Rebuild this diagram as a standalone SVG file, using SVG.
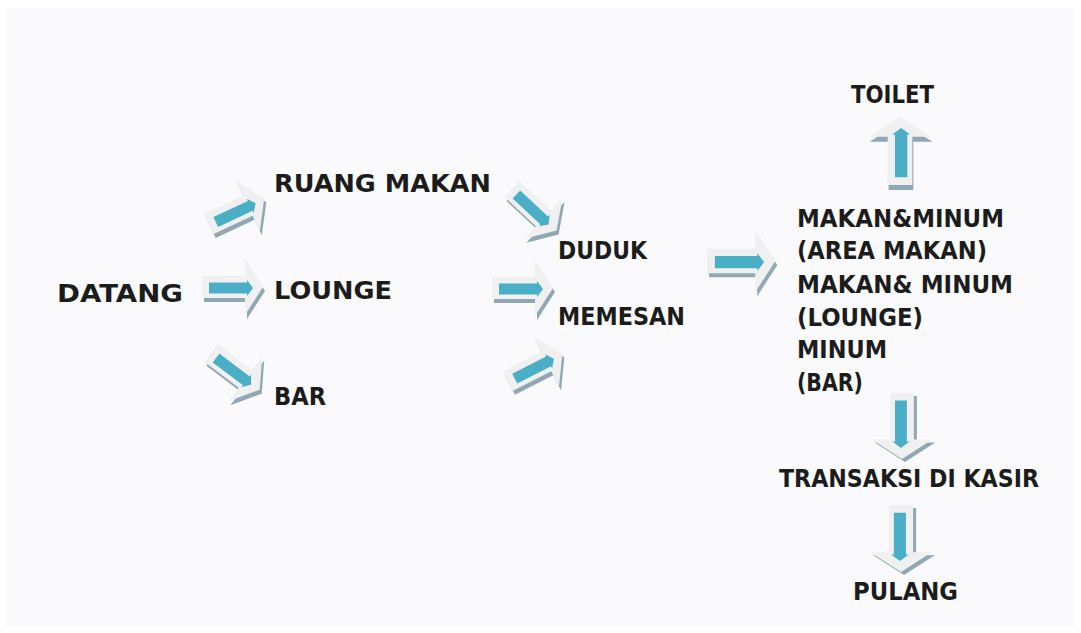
<svg xmlns="http://www.w3.org/2000/svg" xmlns:xlink="http://www.w3.org/1999/xlink" width="1081" height="633" viewBox="0 0 1081 633">
  <style>
    .lbl { font-family: "DejaVu Sans", "Liberation Sans", sans-serif; font-weight: bold; font-size: 25px; fill: #1c1c1c; }
    .col { font-size: 24px; }
    .sh { fill: #8fa8b3; }
    .bd { fill: #f0f0f0; }
    .cr { fill: #4aaec7; }
  </style>
  <defs>
    <!-- block arrow pointing right, origin at tail centre -->
    <path id="blk" d="M0,-11 H43 V-28 L61,0 L43,28 V11 H0 Z"/>
    <path id="core" d="M7,-4.5 H45 V-7 L51,1 L45,9 V6.5 H7 Z"/>
  </defs>

  <rect width="1081" height="633" fill="#ffffff"/>
  <rect x="6" y="8" width="1068" height="618" fill="#fafafc"/>

  <g id="connectors">
    <g id="a-lounge" transform="translate(202,287)">
      <use xlink:href="#blk" class="sh" transform="translate(2,4)"/>
      <use xlink:href="#blk" class="bd"/>
      <use xlink:href="#core" class="cr"/>
    </g>
    <g id="a-ruang" transform="translate(209,224)">
      <use xlink:href="#blk" class="sh" transform="translate(2,4) rotate(-25)"/>
      <use xlink:href="#blk" class="bd" transform="rotate(-25)"/>
      <use xlink:href="#core" class="cr" transform="rotate(-25)"/>
    </g>
    <g id="a-bar" transform="translate(211,353)">
      <use xlink:href="#blk" class="sh" transform="translate(2,4) rotate(37)"/>
      <use xlink:href="#blk" class="bd" transform="rotate(37)"/>
      <use xlink:href="#core" class="cr" transform="rotate(37)"/>
    </g>
    <g id="a-duduk" transform="translate(512,189)">
      <use xlink:href="#blk" class="sh" transform="translate(2,4) rotate(43)"/>
      <use xlink:href="#blk" class="bd" transform="rotate(43)"/>
      <use xlink:href="#core" class="cr" transform="rotate(43)"/>
    </g>
    <g id="a-memesan" transform="translate(492,288)">
      <use xlink:href="#blk" class="sh" transform="translate(2,4)"/>
      <use xlink:href="#blk" class="bd"/>
      <use xlink:href="#core" class="cr"/>
    </g>
    <g id="a-memesan2" transform="translate(508,381)">
      <use xlink:href="#blk" class="sh" transform="translate(2,4) rotate(-27)"/>
      <use xlink:href="#blk" class="bd" transform="rotate(-27)"/>
      <use xlink:href="#core" class="cr" transform="rotate(-27)"/>
    </g>
    <g id="a-makan" transform="translate(707,261)">
      <use xlink:href="#blk" class="sh" transform="translate(2,4) scale(1.12)"/>
      <use xlink:href="#blk" class="bd" transform="scale(1.12)"/>
      <use xlink:href="#core" class="cr" transform="scale(1.12)"/>
    </g>
    <g id="a-toilet" transform="translate(900,185)">
      <use xlink:href="#blk" class="sh" transform="translate(1,5) rotate(-90) scale(1.12)"/>
      <use xlink:href="#blk" class="bd" transform="rotate(-90) scale(1.12)"/>
      <use xlink:href="#core" class="cr" transform="rotate(-90) scale(1.12)"/>
    </g>
    <g id="a-transaksi" transform="translate(902,393)">
      <use xlink:href="#blk" class="sh" transform="translate(3,3) rotate(90) scale(1.08)"/>
      <use xlink:href="#blk" class="bd" transform="rotate(90) scale(1.08)"/>
      <use xlink:href="#core" class="cr" transform="rotate(90) scale(1.08)"/>
    </g>
    <g id="a-pulang" transform="translate(901,505)">
      <use xlink:href="#blk" class="sh" transform="translate(3,3) rotate(90) scale(1.1)"/>
      <use xlink:href="#blk" class="bd" transform="rotate(90) scale(1.1)"/>
      <use xlink:href="#core" class="cr" transform="rotate(90) scale(1.1)"/>
    </g>
  </g>

  <g id="datang"><text class="lbl" x="57" y="302" textLength="126" lengthAdjust="spacingAndGlyphs">DATANG</text></g>
  <g id="ruang-makan"><text class="lbl" x="274" y="192" textLength="217" lengthAdjust="spacingAndGlyphs">RUANG MAKAN</text></g>
  <g id="lounge"><text class="lbl" x="274" y="299" textLength="118" lengthAdjust="spacingAndGlyphs">LOUNGE</text></g>
  <g id="bar"><text class="lbl" x="274" y="405" textLength="52" lengthAdjust="spacingAndGlyphs">BAR</text></g>
  <g id="duduk"><text class="lbl" x="558" y="259" textLength="89" lengthAdjust="spacingAndGlyphs">DUDUK</text></g>
  <g id="memesan"><text class="lbl" x="558" y="325" textLength="127" lengthAdjust="spacingAndGlyphs">MEMESAN</text></g>
  <g id="toilet"><text class="lbl" x="851" y="103" textLength="83" lengthAdjust="spacingAndGlyphs">TOILET</text></g>
  <g id="makan-minum">
    <text class="lbl col" x="797" y="227" textLength="207" lengthAdjust="spacingAndGlyphs">MAKAN&amp;MINUM</text>
    <text class="lbl col" x="797" y="259" textLength="190" lengthAdjust="spacingAndGlyphs">(AREA MAKAN)</text>
    <text class="lbl col" x="797" y="293" textLength="216" lengthAdjust="spacingAndGlyphs">MAKAN&amp; MINUM</text>
    <text class="lbl col" x="797" y="326" textLength="126" lengthAdjust="spacingAndGlyphs">(LOUNGE)</text>
    <text class="lbl col" x="797" y="358" textLength="90" lengthAdjust="spacingAndGlyphs">MINUM</text>
    <text class="lbl col" x="797" y="391" textLength="66" lengthAdjust="spacingAndGlyphs">(BAR)</text>
  </g>
  <g id="transaksi"><text class="lbl" x="779" y="487" textLength="260" lengthAdjust="spacingAndGlyphs">TRANSAKSI DI KASIR</text></g>
  <g id="pulang"><text class="lbl" x="853" y="600" textLength="105" lengthAdjust="spacingAndGlyphs">PULANG</text></g>
</svg>
